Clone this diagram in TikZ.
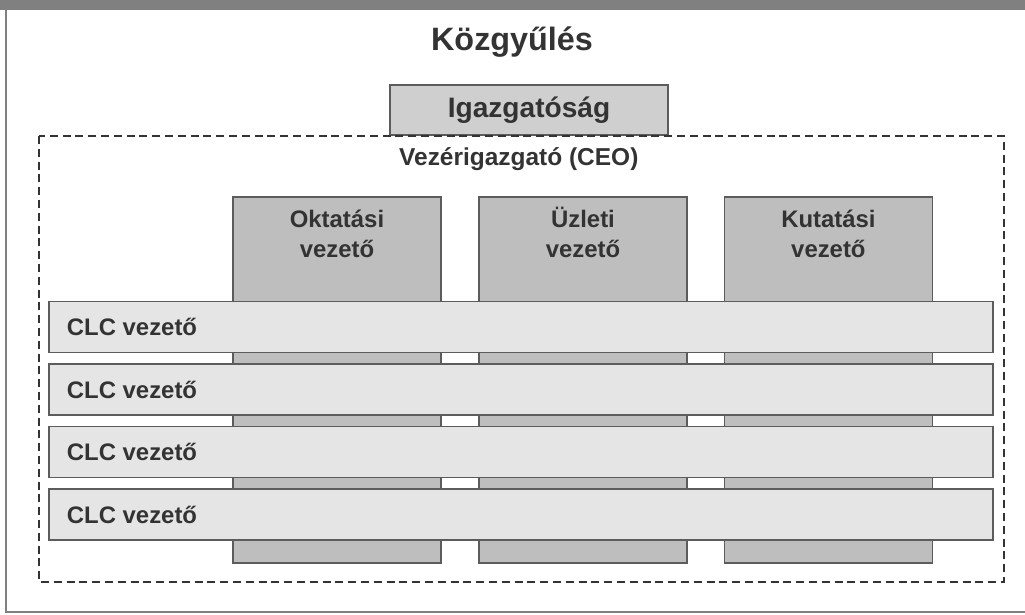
\documentclass[tikz,border=0pt]{standalone}
\usepackage{fontspec}
\setmainfont{Liberation Sans}
\usepackage{xcolor}
\usepackage{tikz}
\usetikzlibrary{positioning}

\definecolor{boxline}{HTML}{5C5C5C}
\definecolor{colfill}{HTML}{BEBEBE}
\definecolor{clcfill}{HTML}{E5E5E5}
\definecolor{igfill}{HTML}{CFCFCF}
\definecolor{txtgray}{HTML}{333333}
\definecolor{bandgray}{HTML}{808080}

\begin{document}
\begin{tikzpicture}[
  title/.style={font=\fontsize{23}{26}\selectfont\bfseries, text=txtgray},
  board/.style={rectangle, draw=boxline, line width=1.2pt, fill=igfill, minimum width=6.95cm, minimum height=1.25cm, font=\fontsize{20}{24}\selectfont\bfseries, text=txtgray},
  ceo/.style={font=\fontsize{17.4}{20}\selectfont\bfseries, text=txtgray},
  column/.style={rectangle, draw=boxline, line width=1.2pt, fill=colfill, minimum width=5.2cm, minimum height=9.15cm},
  collbl/.style={font=\fontsize{17}{21.5}\selectfont\bfseries, text=txtgray, align=center},
  clc/.style={rectangle, draw=boxline, line width=1.2pt, fill=clcfill, minimum width=23.6cm, minimum height=1.28cm},
  clclbl/.style={font=\fontsize{17}{20}\selectfont\bfseries, text=txtgray, anchor=west},
  frame/.style={draw=bandgray, line width=1.2pt},
  dashbox/.style={draw=black!80, line width=1.3pt, dash pattern=on 0.2cm off 0.12cm}
]
\useasboundingbox (0,0) rectangle (25.625,-15.35);
% page frame of the scan
\fill[bandgray] (0,0) rectangle (25.625,-0.25);
\draw[frame] (0.15,-0.25) -- (0.15,-15.3) -- (25.625,-15.3);

\node[title] (kgy) at (12.8,-1.05) {Közgyűlés};
\node[board] (igaz) at (13.225,-2.75) {Igazgatóság};

% management area
\draw[dashbox] (0.975,-3.4) rectangle (25.1,-14.55);
\node[ceo] (ceo) at (12.97,-3.97) {Vezérigazgató (CEO)};

% vertical heads
\node[column] (okt) at (8.425,-9.5) {};
\node[column] (uzl) at (14.575,-9.5) {};
\node[column] (kut) at (20.71,-9.5) {};
\node[collbl, below=0.15cm of okt.north] (okt_t) {Oktatási\vphantom{Ü}\\vezető};
\node[collbl, below=0.15cm of uzl.north] (uzl_t) {Üzleti\\vezető};
\node[collbl, below=0.15cm of kut.north] (kut_t) {Kutatási\vphantom{Ü}\\vezető};

% horizontal CLC rows
\foreach \i/\y in {1/-8.175, 2/-9.74, 3/-11.3, 4/-12.865} {
  \node[clc] (clc\i) at (13.025,\y) {};
  \node[clclbl] (clc\i_t) at (1.55,\y) {CLC vezető};
}
\end{tikzpicture}
\end{document}
